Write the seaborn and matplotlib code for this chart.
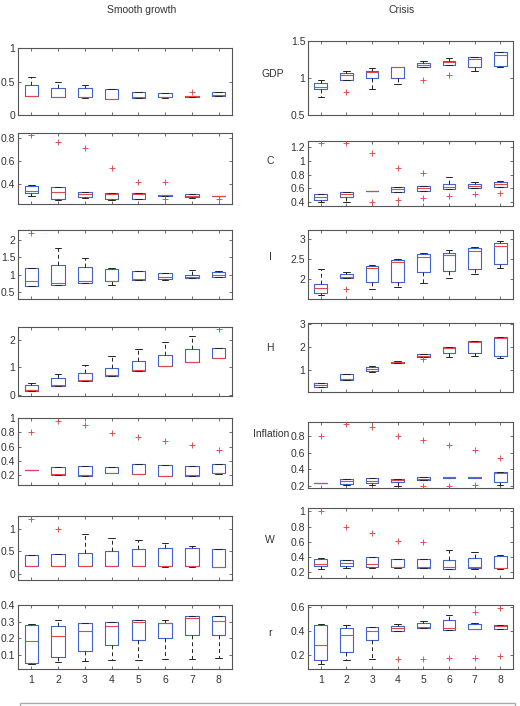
import matplotlib
matplotlib.use("Agg")
import matplotlib.pyplot as plt
import pandas as pd
import seaborn as sns
from matplotlib.patches import Rectangle
from matplotlib.ticker import FuncFormatter

sns.set_theme(style="ticks")
plt.rcParams['font.family'] = ['Liberation Sans', 'DejaVu Sans']

periods = [1, 2, 3, 4, 5, 6, 7, 8]
variables = ["GDP", "C", "I", "H", "Inflation", "W", "r"]

# rows: lower whisker, q1, median, q3, upper whisker (one column per period)
smooth_gdp = [
    [0.28, 0.27, 0.26, 0.235, 0.26, 0.26, 0.275, 0.285],
    [0.28, 0.27, 0.27, 0.24, 0.26, 0.265, 0.275, 0.29],
    [0.285, 0.275, 0.275, 0.245, 0.265, 0.27, 0.283, 0.30],
    [0.445, 0.41, 0.40, 0.385, 0.34, 0.33, 0.29, 0.34],
    [0.57, 0.50, 0.455, 0.39, 0.34, 0.335, 0.29, 0.345],
]
smooth_gdp_out = [(7, 0.345)]

smooth_c = [
    [0.296, 0.265, 0.275, 0.26, 0.27, 0.298, 0.28, 0.293],
    [0.32, 0.27, 0.284, 0.267, 0.272, 0.298, 0.285, 0.293],
    [0.342, 0.328, 0.31, 0.31, 0.315, 0.302, 0.295, 0.295],
    [0.385, 0.377, 0.328, 0.319, 0.319, 0.305, 0.31, 0.298],
    [0.39, 0.377, 0.33, 0.32, 0.32, 0.305, 0.312, 0.298],
]
smooth_c_out = [(1, 0.826), (2, 0.763), (3, 0.71), (4, 0.537), (5, 0.42),
                (6, 0.42), (6, 0.27), (8, 0.27)]

smooth_i = [
    [0.68, 0.70, 0.76, 0.72, 0.84, 0.85, 0.90, 0.94],
    [0.69, 0.70, 0.76, 0.81, 0.84, 0.875, 0.905, 0.94],
    [0.82, 0.77, 0.82, 0.82, 0.87, 0.93, 0.94, 0.98],
    [1.19, 1.28, 1.23, 1.16, 1.11, 1.05, 1.0, 1.09],
    [1.19, 1.75, 1.47, 1.18, 1.11, 1.06, 1.12, 1.10],
]
smooth_i_out = [(1, 2.18)]

smooth_h = [
    [0.15, 0.33, 0.50, 0.70, 0.88, 1.05, 1.21, 1.33],
    [0.15, 0.33, 0.51, 0.70, 0.88, 1.05, 1.21, 1.33],
    [0.18, 0.34, 0.52, 0.71, 0.89, 1.05, 1.21, 1.33],
    [0.35, 0.60, 0.79, 0.99, 1.24, 1.46, 1.69, 1.72],
    [0.42, 0.77, 1.10, 1.41, 1.66, 1.94, 2.16, 1.72],
]
smooth_h_out = [(8, 2.42)]

smooth_infl = [
    [0.265, 0.20, 0.19, 0.233, 0.21, 0.19, 0.19, 0.22],
    [0.265, 0.20, 0.19, 0.233, 0.21, 0.19, 0.19, 0.224],
    [0.27, 0.22, 0.20, 0.235, 0.21, 0.19, 0.195, 0.225],
    [0.275, 0.317, 0.325, 0.317, 0.35, 0.336, 0.32, 0.35],
    [0.275, 0.317, 0.325, 0.317, 0.35, 0.336, 0.32, 0.35],
]
smooth_infl_out = [(1, 0.80), (2, 0.96), (3, 0.90), (4, 0.79), (5, 0.74),
                   (6, 0.68), (7, 0.62), (8, 0.55)]

smooth_w = [
    [0.175, 0.175, 0.175, 0.175, 0.18, 0.14, 0.14, 0.15],
    [0.175, 0.175, 0.175, 0.175, 0.18, 0.17, 0.17, 0.15],
    [0.175, 0.175, 0.175, 0.175, 0.18, 0.17, 0.17, 0.15],
    [0.41, 0.44, 0.47, 0.50, 0.54, 0.56, 0.56, 0.54],
    [0.41, 0.44, 0.88, 0.80, 0.75, 0.67, 0.62, 0.55],
]
smooth_w_out = [(1, 1.22), (2, 0.99)]

smooth_r = [
    [0.048, 0.061, 0.066, 0.072, 0.072, 0.076, 0.078, 0.08],
    [0.052, 0.088, 0.126, 0.16, 0.188, 0.204, 0.222, 0.222],
    [0.186, 0.216, 0.246, 0.275, 0.30, 0.29, 0.325, 0.305],
    [0.283, 0.272, 0.293, 0.296, 0.313, 0.295, 0.335, 0.332],
    [0.285, 0.31, 0.293, 0.296, 0.313, 0.31, 0.335, 0.333],
]
smooth_r_out = []

crisis_gdp = [
    [0.75, 0.968, 0.847, 0.915, 1.145, 1.176, 1.095, 1.15],
    [0.847, 0.968, 1.0, 1.0, 1.145, 1.176, 1.145, 1.166],
    [0.88, 1.036, 1.085, 1.145, 1.17, 1.21, 1.26, 1.31],
    [0.937, 1.063, 1.10, 1.15, 1.20, 1.234, 1.28, 1.347],
    [0.97, 1.10, 1.13, 1.15, 1.225, 1.266, 1.285, 1.355],
]
crisis_gdp_out = [(2, 0.815), (5, 0.973), (6, 1.036)]

crisis_c = [
    [0.395, 0.40, 0.555, 0.55, 0.565, 0.594, 0.604, 0.62],
    [0.43, 0.469, 0.555, 0.55, 0.565, 0.594, 0.604, 0.62],
    [0.469, 0.512, 0.56, 0.585, 0.61, 0.62, 0.636, 0.655],
    [0.512, 0.54, 0.565, 0.62, 0.638, 0.658, 0.667, 0.696],
    [0.512, 0.54, 0.565, 0.62, 0.638, 0.765, 0.688, 0.706],
]
crisis_c_out = [(1, 1.257), (2, 1.257), (3, 1.11), (3, 0.395), (4, 0.89),
                (4, 0.425), (5, 0.828), (5, 0.463), (6, 0.488), (7, 0.512),
                (8, 0.536)]

crisis_i = [
    [1.60, 2.04, 1.75, 1.80, 1.90, 2.04, 2.125, 2.29],
    [1.65, 2.04, 1.925, 1.925, 2.18, 2.20, 2.25, 2.38],
    [1.775, 2.07, 2.29, 2.43, 2.55, 2.60, 2.715, 2.83],
    [1.88, 2.125, 2.33, 2.475, 2.63, 2.665, 2.775, 2.90],
    [2.25, 2.18, 2.35, 2.50, 2.65, 2.73, 2.815, 2.965],
]
crisis_i_out = [(2, 1.765)]

crisis_h = [
    [0.28, 0.56, 0.94, 1.30, 1.59, 1.59, 1.62, 1.55],
    [0.29, 0.565, 0.955, 1.31, 1.59, 1.74, 1.77, 1.63],
    [0.36, 0.63, 1.05, 1.34, 1.64, 1.95, 2.22, 2.41],
    [0.43, 0.83, 1.13, 1.37, 1.70, 2.0, 2.27, 2.43],
    [0.47, 0.86, 1.18, 1.40, 1.70, 2.0, 2.27, 2.43],
]
crisis_h_out = [(5, 1.48)]

crisis_infl = [
    [0.225, 0.21, 0.21, 0.20, 0.27, 0.30, 0.30, 0.21],
    [0.225, 0.22, 0.23, 0.24, 0.27, 0.297, 0.297, 0.24],
    [0.23, 0.25, 0.26, 0.265, 0.28, 0.30, 0.30, 0.35],
    [0.235, 0.28, 0.29, 0.28, 0.30, 0.303, 0.303, 0.37],
    [0.235, 0.28, 0.29, 0.28, 0.30, 0.303, 0.303, 0.37],
]
crisis_infl_out = [(1, 0.80), (2, 0.948), (3, 0.92), (4, 0.80), (5, 0.75),
                   (5, 0.20), (6, 0.697), (6, 0.20), (7, 0.628), (7, 0.21),
                   (8, 0.53)]

crisis_w = [
    [0.24, 0.253, 0.255, 0.255, 0.257, 0.235, 0.245, 0.245],
    [0.274, 0.283, 0.266, 0.26, 0.257, 0.24, 0.25, 0.25],
    [0.31, 0.32, 0.31, 0.27, 0.26, 0.27, 0.26, 0.25],
    [0.375, 0.36, 0.40, 0.366, 0.37, 0.36, 0.38, 0.405],
    [0.38, 0.36, 0.40, 0.366, 0.37, 0.495, 0.46, 0.425],
]
crisis_w_out = [(1, 1.01), (2, 0.795), (3, 0.715), (4, 0.61), (5, 0.60)]

crisis_r = [
    [0.125, 0.158, 0.166, 0.40, 0.427, 0.41, 0.413, 0.413],
    [0.158, 0.226, 0.323, 0.40, 0.427, 0.41, 0.413, 0.413],
    [0.287, 0.364, 0.40, 0.425, 0.43, 0.42, 0.415, 0.44],
    [0.45, 0.42, 0.433, 0.441, 0.469, 0.488, 0.46, 0.45],
    [0.455, 0.447, 0.436, 0.455, 0.485, 0.53, 0.465, 0.45],
]
crisis_r_out = [(4, 0.171), (5, 0.171), (6, 0.18), (7, 0.56), (7, 0.18),
                (8, 0.59), (8, 0.19)]

smooth_panels = [(smooth_gdp, smooth_gdp_out), (smooth_c, smooth_c_out),
                 (smooth_i, smooth_i_out), (smooth_h, smooth_h_out),
                 (smooth_infl, smooth_infl_out), (smooth_w, smooth_w_out),
                 (smooth_r, smooth_r_out)]
crisis_panels = [(crisis_gdp, crisis_gdp_out), (crisis_c, crisis_c_out),
                 (crisis_i, crisis_i_out), (crisis_h, crisis_h_out),
                 (crisis_infl, crisis_infl_out), (crisis_w, crisis_w_out),
                 (crisis_r, crisis_r_out)]

smooth_ylim = [(0, 1), (0.226, 0.843), (0.31, 2.27), (-0.05, 2.48),
               (0.06, 1.0), (-0.14, 1.28), (0.017, 0.4)]
smooth_yticks = [[0, 0.5, 1], [0.4, 0.6, 0.8], [0.5, 1, 1.5, 2], [0, 1, 2],
                 [0.2, 0.4, 0.6, 0.8, 1], [0, 0.5, 1], [0.1, 0.2, 0.3, 0.4]]
crisis_ylim = [(0.5, 1.5), (0.34, 1.29), (1.51, 3.23), (0.06, 3.05),
               (0.17, 0.975), (0.12, 1.045), (0.085, 0.614)]
crisis_yticks = [[0.5, 1, 1.5], [0.4, 0.6, 0.8, 1, 1.2], [2, 2.5, 3], [1, 2, 3],
                 [0.2, 0.4, 0.6, 0.8], [0.2, 0.4, 0.6, 0.8, 1], [0.2, 0.4, 0.6]]

# layout in pixels (top, bottom) for each row
W_PX, H_PX = 520, 706
smooth_rows = [(48, 115), (133, 204), (230, 299), (327, 396), (418, 485), (516, 580), (605, 669)]
crisis_rows = [(41, 115), (141, 206), (230, 299), (323, 392), (422, 488), (508, 578), (605, 669)]
label_y = [74, 161, 257, 348, 434, 540, 633]
label_x = [273, 270, 270, 270, 275, 270, 270]

BLUE = "#4163cf"
RED = "#e24848"
TXT = "#333333"

fig = plt.figure(figsize=(W_PX / 100, H_PX / 100), dpi=100)
fig.patch.set_facecolor("white")


def draw_panel(rect, panel, ylim, yticks, bottom_row):
    stats_tbl, outliers = panel
    ax = fig.add_axes(rect)
    stats = []
    for k in range(len(periods)):
        stats.append(dict(whislo=stats_tbl[0][k], q1=stats_tbl[1][k], med=stats_tbl[2][k],
                          q3=stats_tbl[3][k], whishi=stats_tbl[4][k], fliers=[]))
    ax.bxp(stats, positions=periods, widths=0.5, capwidths=0.25, showfliers=False,
           boxprops=dict(color=BLUE, linewidth=0.8),
           medianprops=dict(color=RED, linewidth=0.8),
           whiskerprops=dict(color="#222222", linewidth=0.7, linestyle=(0, (4, 3))),
           capprops=dict(color="#222222", linewidth=0.7))
    if outliers:
        df = pd.DataFrame(outliers, columns=["period", "value"])
        sns.scatterplot(data=df, x="period", y="value", marker="+", color=RED,
                        s=16, linewidth=0.65, ax=ax, legend=False, zorder=3)
    ax.set_xlim(0.5, 8.5)
    ax.set_ylim(*ylim)
    ax.set_yticks(yticks)
    ax.yaxis.set_major_formatter(FuncFormatter(lambda v, p: f"{v:g}"))
    ax.set_xticks(periods)
    ax.set_xlabel("")
    ax.set_ylabel("")
    ax.tick_params(direction="in", length=2.5, width=0.6, top=True, right=True,
                   labelsize=7.5, pad=2, colors="#555555", labelcolor=TXT)
    if not bottom_row:
        ax.set_xticklabels([])
    else:
        ax.tick_params(axis="x", pad=4)
    for sp in ax.spines.values():
        sp.set_color("#555555")
        sp.set_linewidth(0.8)
    return ax


for i in range(7):
    t, b = smooth_rows[i]
    draw_panel([18 / W_PX, 1 - b / H_PX, (232 - 18) / W_PX, (b - t) / H_PX],
               smooth_panels[i], smooth_ylim[i], smooth_yticks[i], i == 6)
    t, b = crisis_rows[i]
    draw_panel([308 / W_PX, 1 - b / H_PX, (513 - 308) / W_PX, (b - t) / H_PX],
               crisis_panels[i], crisis_ylim[i], crisis_yticks[i], i == 6)
    if variables[i] == "Inflation":
        fig.text(289 / W_PX, 1 - label_y[i] / H_PX, variables[i],
                 ha="right", va="center", fontsize=7.5, color=TXT)
    else:
        fig.text(label_x[i] / W_PX, 1 - label_y[i] / H_PX, variables[i],
                 ha="center", va="center", fontsize=7.5, color=TXT)

fig.text(142 / W_PX, 1 - 10 / H_PX, "Smooth growth", ha="center", va="center",
         fontsize=7.5, color=TXT)
fig.text(402 / W_PX, 1 - 10 / H_PX, "Crisis", ha="center", va="center",
         fontsize=7.5, color=TXT)

# legend frame cut off at the bottom edge
fig.patches.append(Rectangle((20 / W_PX, -0.05), 495 / W_PX, 0.05 + 3 / H_PX,
                             transform=fig.transFigure, fill=False,
                             edgecolor="#aaaaaa", linewidth=1.0))

fig.savefig("out.png", dpi=100)
